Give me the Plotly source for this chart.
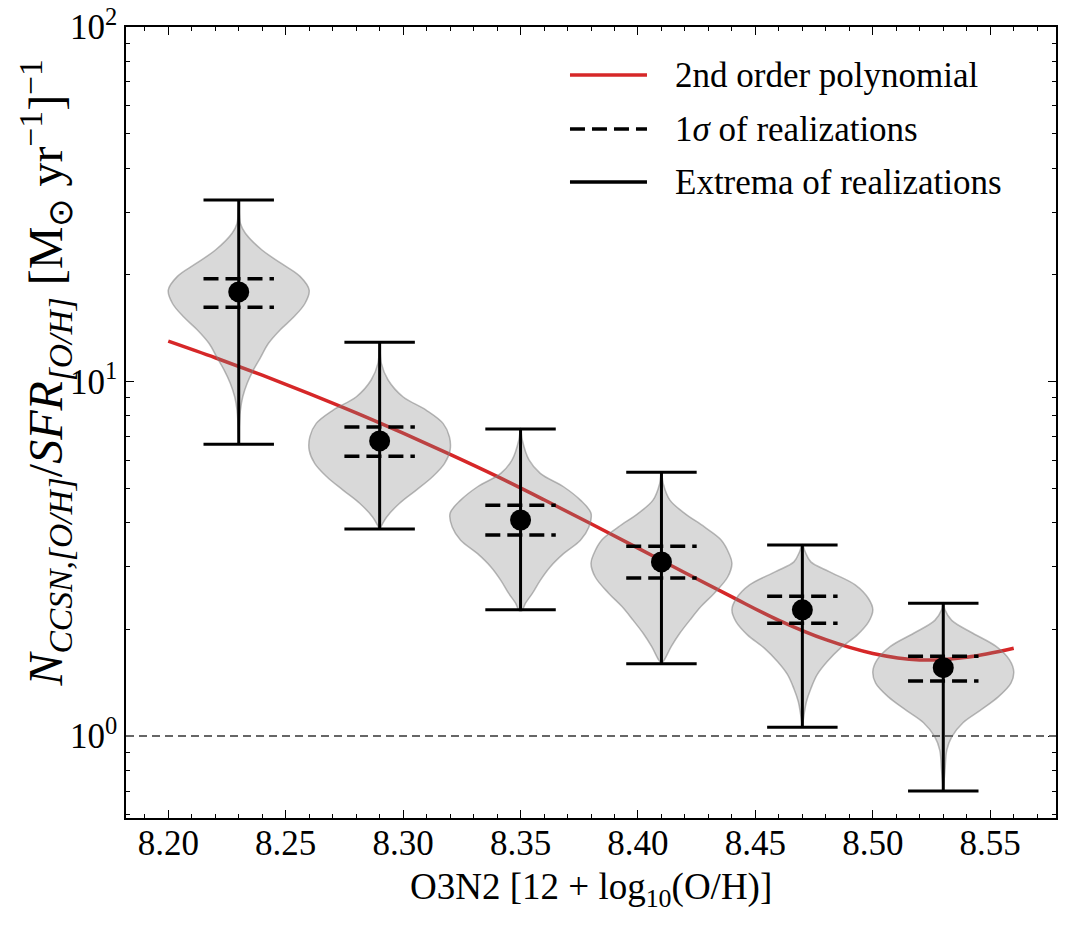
import plotly.graph_objects as go

# violin centres (O3N2 bins) and summary values
CENTERS = [8.23, 8.29, 8.35, 8.41, 8.47, 8.53]
MEDIANS = [17.9, 6.8, 4.07, 3.10, 2.27, 1.56]
SIG_HI = [19.5, 7.44, 4.48, 3.43, 2.48, 1.68]
SIG_LO = [16.2, 6.16, 3.69, 2.79, 2.08, 1.43]
EXT_HI = [32.5, 12.9, 7.35, 5.55, 3.46, 2.37]
EXT_LO = [6.66, 3.84, 2.27, 1.60, 1.06, 0.70]

# violin outlines: value along y and relative half-width (1 = widest)
VIOLIN_Y = [
    [31.8, 27.9, 26.2, 23.5, 21.5, 19.8, 18.1, 16.6, 15.2, 14.0, 12.8, 11.7, 10.8, 9.89, 9.06, 8.31, 7.62, 6.84],
    [12.9, 11.25, 10.1, 9.06, 8.31, 7.62, 6.99, 6.41, 5.87, 5.39, 4.94, 4.53, 4.15, 3.83],
    [7.38, 6.84, 6.01, 5.51, 5.05, 4.63, 4.25, 3.89, 3.57, 3.27, 3.00, 2.75, 2.53, 2.37, 2.26],
    [5.57, 5.16, 4.63, 4.25, 3.89, 3.57, 3.27, 3.07, 2.81, 2.53, 2.32, 2.12, 1.95, 1.79, 1.64, 1.60],
    [3.47, 3.31, 3.10, 2.91, 2.67, 2.44, 2.27, 2.10, 1.93, 1.77, 1.62, 1.49, 1.36, 1.25, 1.15, 1.06],
    [2.38, 2.27, 2.12, 1.95, 1.79, 1.64, 1.52, 1.41, 1.29, 1.18, 1.09, 0.995, 0.913, 0.80, 0.705],
]
VIOLIN_W = [
    [0, 0.024, 0.094, 0.33, 0.61, 0.87, 1.0, 0.94, 0.78, 0.59, 0.42, 0.31, 0.21, 0.12, 0.057, 0.024, 0.01, 0],
    [0, 0.024, 0.12, 0.33, 0.66, 0.90, 0.99, 1.0, 0.92, 0.75, 0.52, 0.28, 0.10, 0],
    [0, 0.024, 0.12, 0.28, 0.61, 0.85, 1.0, 0.97, 0.85, 0.61, 0.42, 0.28, 0.17, 0.07, 0.02],
    [0, 0.024, 0.12, 0.33, 0.61, 0.85, 0.96, 1.0, 0.94, 0.75, 0.56, 0.40, 0.26, 0.14, 0.04, 0],
    [0, 0.04, 0.12, 0.38, 0.75, 0.94, 1.0, 0.94, 0.78, 0.54, 0.35, 0.21, 0.12, 0.057, 0.024, 0],
    [0, 0.024, 0.12, 0.42, 0.75, 0.94, 1.0, 0.96, 0.78, 0.52, 0.28, 0.12, 0.05, 0.024, 0],
]

# 2nd order polynomial curve
POLY_X = [8.20, 8.22, 8.24, 8.26, 8.28, 8.30, 8.32, 8.34, 8.36, 8.38,
          8.40, 8.42, 8.44, 8.46, 8.48, 8.50, 8.52, 8.54, 8.56]
POLY_Y = [13.0, 11.67, 10.42, 9.25, 8.16, 7.15, 6.23, 5.40, 4.64, 3.97,
          3.39, 2.89, 2.47, 2.12, 1.87, 1.71, 1.64, 1.67, 1.77]

REF_LEVEL = 1.0

X_TICKS = [8.20, 8.25, 8.30, 8.35, 8.40, 8.45, 8.50, 8.55]
Y_TICKS = [1, 10, 100]
Y_TICK_TEXT = ["10<sup>0</sup>", "10<sup>1</sup>", "10<sup>2</sup>"]
Y_MINOR = [0.6, 0.7, 0.8, 0.9] + list(range(2, 10)) + list(range(20, 100, 10))

HALF_W = 0.03
CAP_HALF = 0.015
FONT = "Liberation Serif"
SIG_DASH = "15px,7px"

fig = go.Figure()

fig.add_trace(go.Scatter(x=POLY_X, y=POLY_Y, mode="lines", line_shape="spline",
                         line=dict(color="#d62728", width=3.5), hoverinfo="skip"))

for c, ys, ws in zip(CENTERS, VIOLIN_Y, VIOLIN_W):
    xs = [c + HALF_W * w for w in ws] + [c - HALF_W * w for w in reversed(ws)]
    yy = list(ys) + list(reversed(ys))
    fig.add_trace(go.Scatter(x=xs, y=yy, mode="lines", fill="toself", line_shape="spline",
                             fillcolor="rgba(128,128,128,0.3)",
                             line=dict(color="rgba(128,128,128,0.55)", width=1.5),
                             hoverinfo="skip"))


def segs(vals, centers, half):
    xs, ys = [], []
    for c, y in zip(centers, vals):
        xs += [c - half, c + half, None]
        ys += [y, y, None]
    return xs, ys


# vertical extrema bars
bx, by = [], []
for c, lo, hi in zip(CENTERS, EXT_LO, EXT_HI):
    bx += [c, c, None]
    by += [lo, hi, None]
fig.add_trace(go.Scatter(x=bx, y=by, mode="lines", line=dict(color="black", width=3)))

for vals in (EXT_HI, EXT_LO):
    sx, sy = segs(vals, CENTERS, CAP_HALF)
    fig.add_trace(go.Scatter(x=sx, y=sy, mode="lines", line=dict(color="black", width=3)))

for vals in (SIG_HI, SIG_LO):
    sx, sy = segs(vals, CENTERS, CAP_HALF)
    fig.add_trace(go.Scatter(x=sx, y=sy, mode="lines",
                             line=dict(color="black", width=3.5, dash=SIG_DASH)))

fig.add_trace(go.Scatter(x=CENTERS, y=MEDIANS, mode="markers",
                         marker=dict(color="black", size=21)))

fig.add_hline(y=REF_LEVEL, line=dict(color="#666666", width=2, dash="8px,5px"))

# legend drawn by hand so the line samples match the long matplotlib handles
legend_items = [
    ("2nd order polynomial", "#d62728", "solid", 0.9393),
    ("1<i>σ</i> of realizations", "black", SIG_DASH, 0.8710),
    ("Extrema of realizations", "black", "solid", 0.8040),
]
for label, col, dash, yy in legend_items:
    fig.add_shape(type="line", xref="paper", yref="paper", x0=0.4774, x1=0.5602, y0=yy, y1=yy,
                  line=dict(color=col, width=3.5, dash=dash))
    fig.add_annotation(xref="paper", yref="paper", x=0.5882, y=yy, text=label, showarrow=False,
                       xanchor="left", yanchor="middle", font=dict(family=FONT, size=35, color="black"))

fig.add_annotation(
    xref="paper", yref="paper", x=-0.087, y=0.562, textangle=-90, showarrow=False,
    xanchor="center", yanchor="middle",
    text="<i>N</i><sub><i>CCSN,[O/H]</i></sub>/<i>SFR</i><sub><i>[O/H]</i></sub> "
         "[M<sub>⊙</sub> yr<sup>−1</sup>]<sup>−1</sup>",
    font=dict(family=FONT, size=48, color="black"),
)

fig.add_annotation(
    xref="paper", yref="paper", x=0.5, y=-0.090, showarrow=False,
    xanchor="center", yanchor="middle",
    text="O3N2 [12 + log<sub>10</sub>(O/H)]",
    font=dict(family=FONT, size=37, color="black"),
)

fig.update_layout(
    width=1071, height=925,
    margin=dict(l=126, r=15, t=27, b=107),
    plot_bgcolor="white", paper_bgcolor="white",
    showlegend=False,
    font=dict(family=FONT, size=35, color="black"),
)

fig.update_xaxes(
    range=[8.182, 8.578], tickvals=X_TICKS, ticktext=[f"{v:.2f}" for v in X_TICKS],
    tickfont=dict(family=FONT, size=35), ticklabelstandoff=-7,
    ticks="inside", ticklen=8, tickwidth=1.3, tickcolor="black",
    showline=True, linecolor="black", linewidth=1.5, mirror="ticks",
    showgrid=False, zeroline=False, automargin=False,
    minor=dict(dtick=0.01, tick0=8.2, ticks="inside", ticklen=4, tickwidth=1, tickcolor="black", showgrid=False),
)
fig.update_yaxes(
    type="log", range=[-0.231, 2.0], tickvals=Y_TICKS, ticktext=Y_TICK_TEXT,
    tickfont=dict(family=FONT, size=35),
    ticks="inside", ticklen=8, tickwidth=1.3, tickcolor="black",
    showline=True, linecolor="black", linewidth=1.5, mirror="ticks",
    showgrid=False, zeroline=False, automargin=False,
    minor=dict(tickvals=Y_MINOR, ticks="inside", ticklen=4, tickwidth=1, tickcolor="black", showgrid=False),
)

fig.write_html("out.html", config={"displayModeBar": False},
               post_script="document.body.style.margin='0';")
